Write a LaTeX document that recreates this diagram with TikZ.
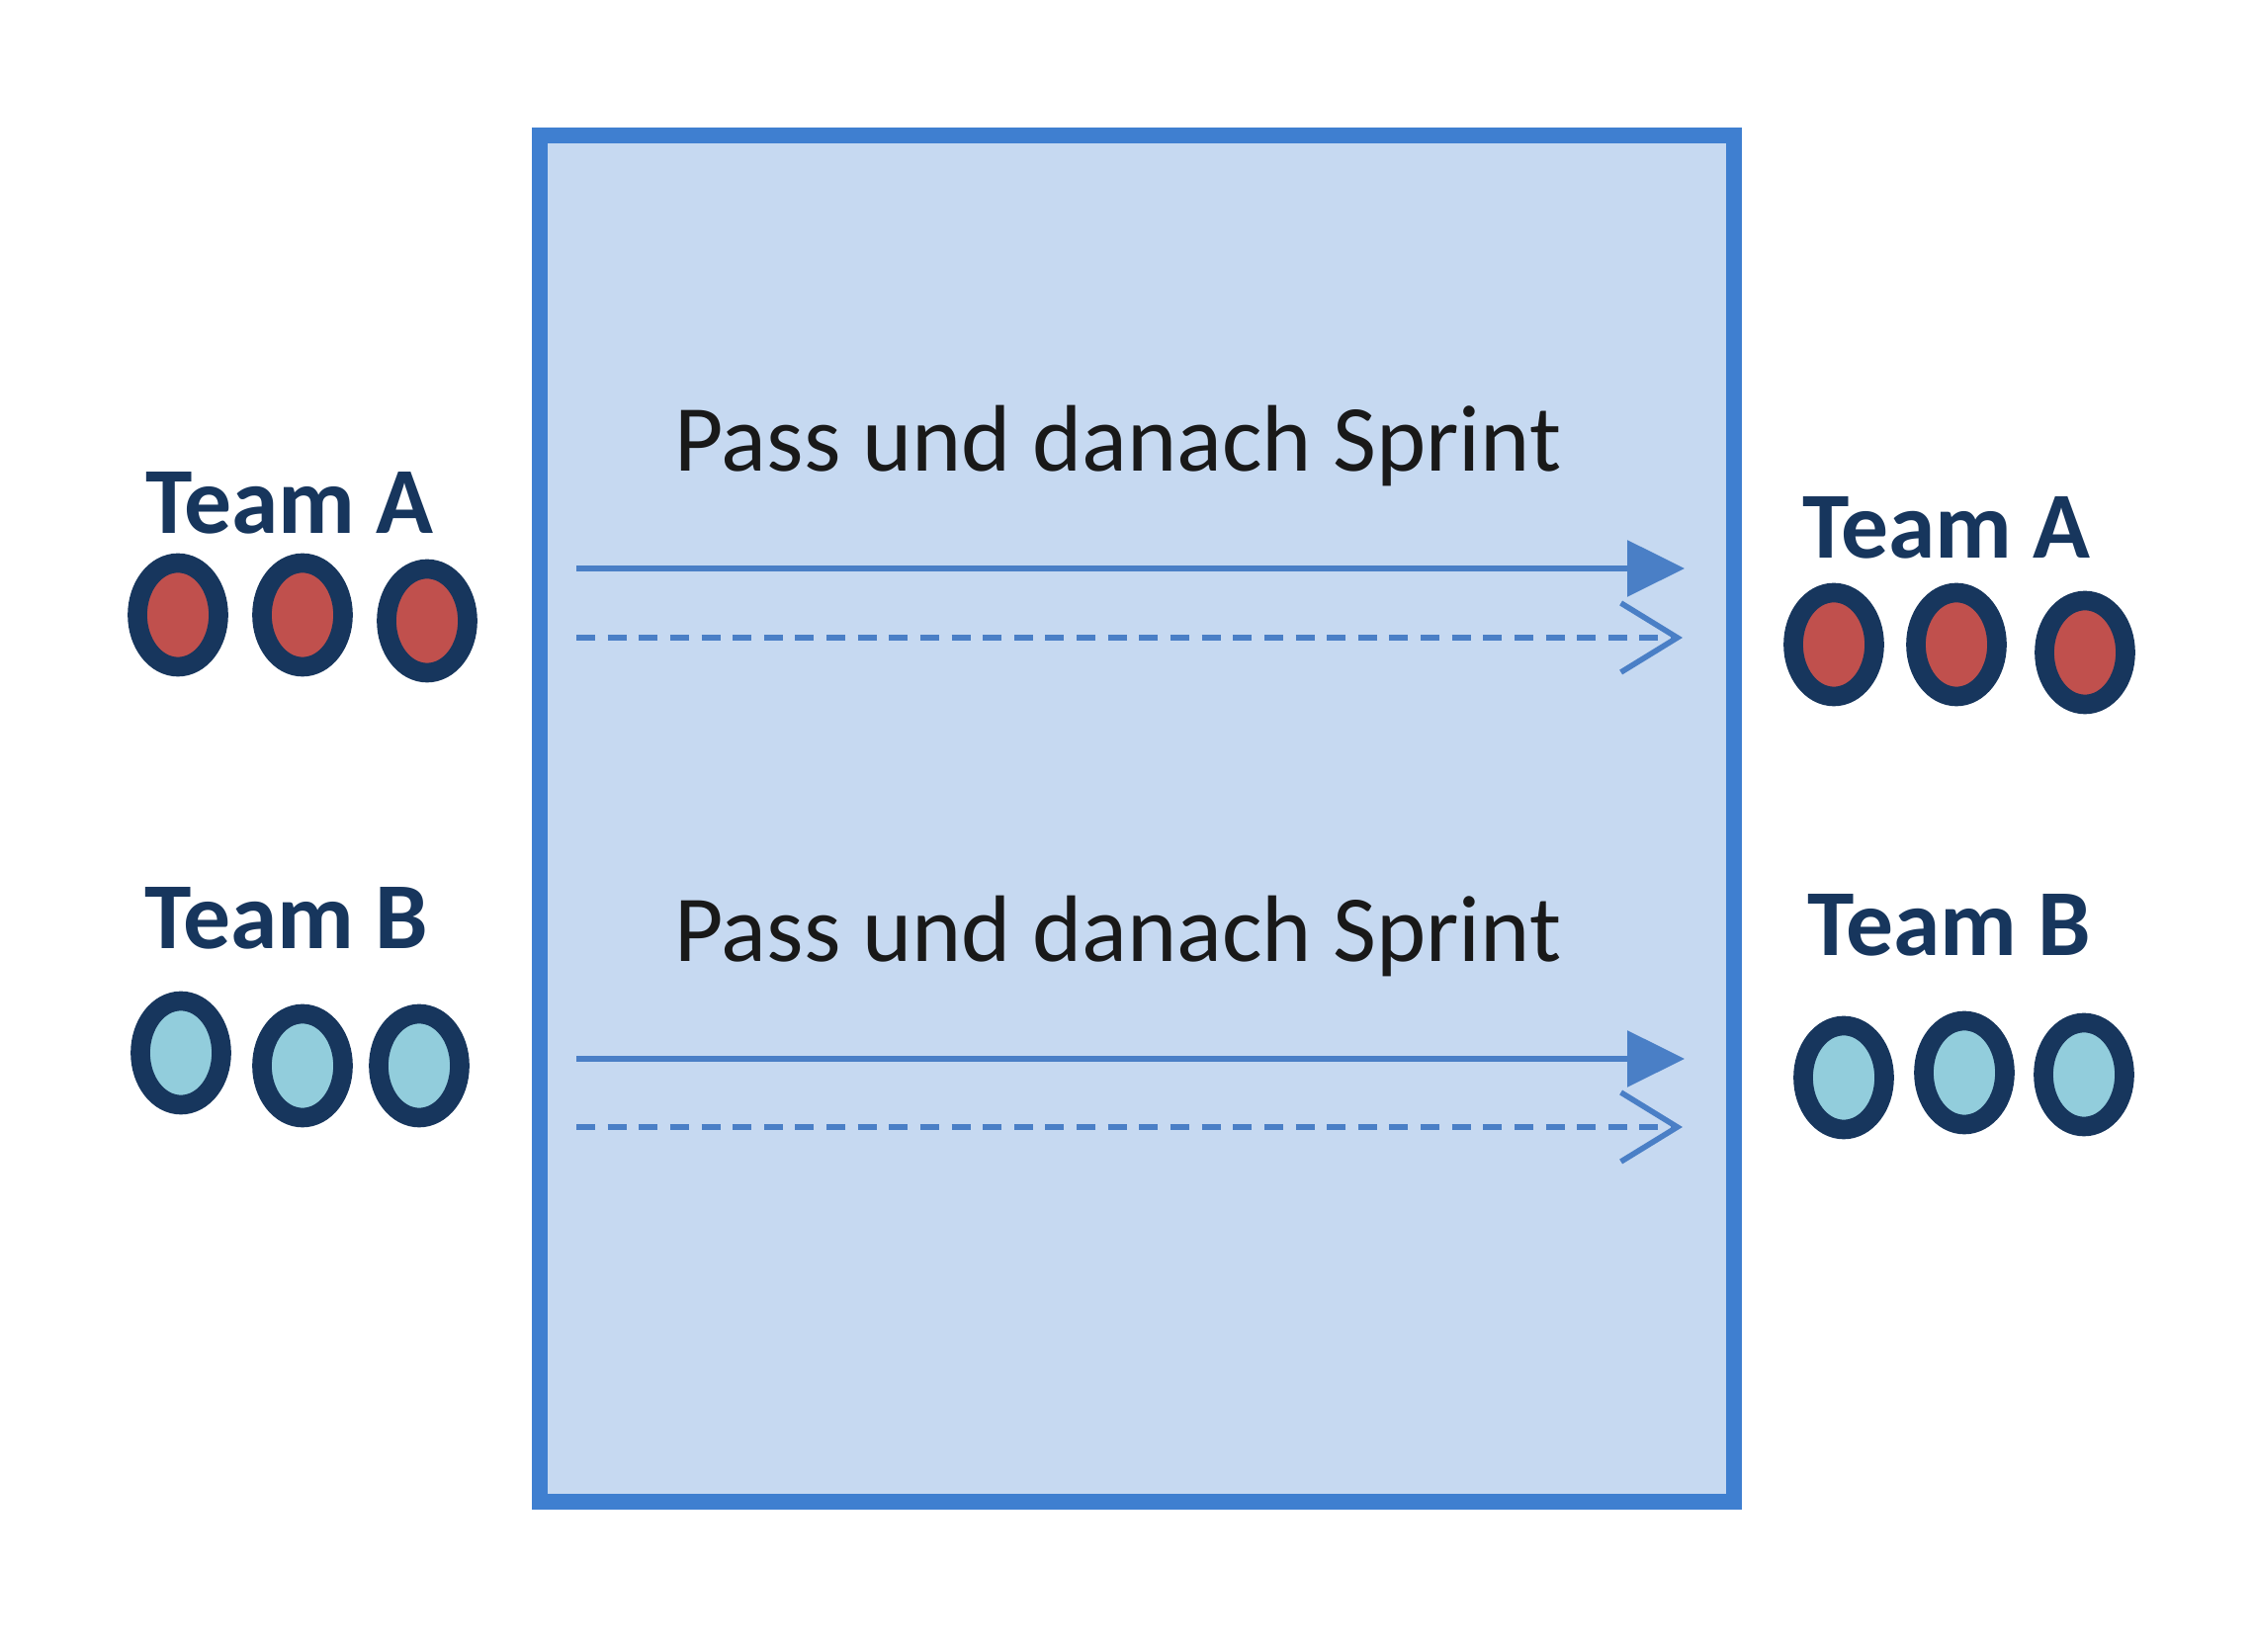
\documentclass[tikz,border=0pt]{standalone}
\usepackage{fontspec}
\setmainfont{Carlito}
\usepackage{xcolor}
\usepackage{tikz}
\usetikzlibrary{positioning,shapes.geometric,arrows.meta}

\definecolor{fieldfill}{HTML}{C6D9F1}
\definecolor{fieldline}{HTML}{3F7FD0}
\definecolor{runline}{HTML}{4A7FC6}
\definecolor{navy}{HTML}{17365D}
\definecolor{teamred}{HTML}{C0504D}
\definecolor{teamblue}{HTML}{92CDDC}

\begin{document}
\begin{tikzpicture}[
  x=0.1mm, y=-0.1mm,
  font=\fontsize{27.2}{32}\selectfont,
  field/.style={draw=fieldline, fill=fieldfill, line width=4.8pt},
  player/.style={ellipse, draw=navy, line width=5.6pt, inner sep=0pt,
                 minimum width=8.2mm, minimum height=10.5mm},
  pA/.style={player, fill=teamred},
  pB/.style={player, fill=teamblue},
  team/.style={anchor=base, text=navy, font=\fontsize{27.2}{32}\selectfont\bfseries, inner sep=0pt},
  task/.style={anchor=base, text=black!90, inner sep=0pt},
  pass/.style={runline, line width=1.8pt, -{Triangle[length=5.8mm, width=5.6mm]}},
  sprint/.style={runline, line width=1.8pt, dash pattern=on 5.4pt off 3.6pt,
                 -{Straight Barb[length=5.7mm, width=7mm, line width=1.6pt]}},
]
\useasboundingbox (0,0) rectangle (2280,1671);

% playing field
\draw[field] (546,137) rectangle (1754,1519);

% tasks
\node[task] (t1) at (1131,477) {Pass und danach Sprint};
\node[task] (t2) at (1131,973) {Pass und danach Sprint};

\coordinate (p1s) at (583,575);  \coordinate (p1e) at (1704,575);
\coordinate (s1s) at (583,645);  \coordinate (s1e) at (1702,645);
\coordinate (p2s) at (583,1071); \coordinate (p2e) at (1704,1071);
\coordinate (s2s) at (583,1140); \coordinate (s2e) at (1702,1140);
\draw[pass] (p1s) -- (p1e);
\draw[sprint] (s1s) -- (s1e);
\draw[pass] (p2s) -- (p2e);
\draw[sprint] (s2s) -- (s2e);

% left side
\node[team] (la) at (293,540) {Team A};
\node[pA] (la1) at (180,622) {};
\node[pA] (la2) at (306,622) {};
\node[pA] (la3) at (432,628) {};
\node[team] (lb) at (290,960) {Team B};
\node[pB] (lb1) at (183,1065) {};
\node[pB] (lb2) at (306,1078) {};
\node[pB] (lb3) at (424,1078) {};

% right side
\node[team] (ra) at (1969,565) {Team A};
\node[pA] (ra1) at (1855,652) {};
\node[pA] (ra2) at (1979,652) {};
\node[pA] (ra3) at (2109,660) {};
\node[team] (rb) at (1972,967) {Team B};
\node[pB] (rb1) at (1865,1090) {};
\node[pB] (rb2) at (1987,1085) {};
\node[pB] (rb3) at (2108,1087) {};
\end{tikzpicture}
\end{document}
